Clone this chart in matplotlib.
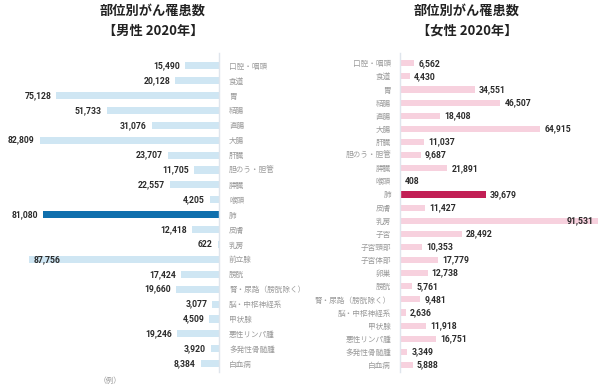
import matplotlib
matplotlib.use("Agg")
import matplotlib.pyplot as plt

plt.rcParams['font.family'] = ['Noto Sans CJK JP', 'DejaVu Sans']

# 男性
male_sites = ["口腔・咽頭", "食道", "胃", "結腸", "直腸", "大腸", "肝臓",
              "胆のう・胆管", "膵臓", "喉頭", "肺", "皮膚", "乳房", "前立腺",
              "膀胱", "腎・尿路（膀胱除く）", "脳・中枢神経系", "甲状腺",
              "悪性リンパ腫", "多発性骨髄腫", "白血病"]
male_vals = [15490, 20128, 75128, 51733, 31076, 82809, 23707,
             11705, 22557, 4205, 81080, 12418, 622, 87756,
             17424, 19660, 3077, 4509, 19246, 3920, 8384]

# 女性
female_sites = ["口腔・咽頭", "食道", "胃", "結腸", "直腸", "大腸", "肝臓",
                "胆のう・胆管", "膵臓", "喉頭", "肺", "皮膚", "乳房", "子宮",
                "子宮頸部", "子宮体部", "卵巣", "膀胱", "腎・尿路（膀胱除く）",
                "脳・中枢神経系", "甲状腺", "悪性リンパ腫", "多発性骨髄腫", "白血病"]
female_vals = [6562, 4430, 34551, 46507, 18408, 64915, 11037,
               9687, 21891, 408, 39679, 11427, 91531, 28492,
               10353, 17779, 12738, 5761, 9481,
               2636, 11918, 16751, 3349, 5888]

highlight = "肺"

W, H = 600, 386
fig = plt.figure(figsize=(6, 3.86), dpi=100)

line_col = "#dfe5ec"
lab_col = "#9a9a9a"
val_col = "#2b2b2b"
num_font = dict(family=['Roboto', 'DejaVu Sans'], fontweight='bold', fontsize=6.2, color=val_col)

top_px, bot_px = 53, 372
ax_b = (H - bot_px) / H
ax_h = (bot_px - top_px) / H

# ---- male ----
axm = fig.add_axes([0, ax_b, 219 / W, ax_h])
ym = list(range(len(male_sites)))
cm = ["#0f6fad" if s == highlight else "#cfe6f3" for s in male_sites]
axm.barh(ym, male_vals, height=0.48, color=cm)
axm.set_xlim(219 / 2.165 * 1000, 0)
axm.set_ylim(20 + 8.3 / 14.9, -12.7 / 14.9)
axm.yaxis.tick_right()
axm.set_yticks(ym)
axm.set_yticklabels(male_sites, fontsize=5.5, color=lab_col)
axm.tick_params(axis='y', length=0, pad=7.2)
axm.set_xticks([])
for sp in ["top", "bottom", "left"]:
    axm.spines[sp].set_visible(False)
axm.spines["right"].set_color(line_col)
axm.spines["right"].set_linewidth(1)
mmax = max(male_vals)
for y, v in zip(ym, male_vals):
    if v == mmax:
        axm.annotate(f"{v:,}", (v, y), xytext=(3, 0), textcoords="offset points",
                     ha="left", va="center", **num_font)
    else:
        axm.annotate(f"{v:,}", (v, y), xytext=(-3.6, 0), textcoords="offset points",
                     ha="right", va="center", **num_font)

# ---- female ----
axf = fig.add_axes([400 / W, ax_b, 200 / W, ax_h])
yf = list(range(len(female_sites)))
cf = ["#c21f55" if s == highlight else "#f7d1de" for s in female_sites]
axf.barh(yf, female_vals, height=0.47, color=cf)
axf.set_xlim(0, 200 / 2.16 * 1000)
axf.set_ylim(23 + 7 / 13.12, -10.3 / 13.12)
axf.set_yticks(yf)
axf.set_yticklabels(female_sites, fontsize=5.5, color=lab_col)
axf.tick_params(axis='y', length=0, pad=6.5)
axf.set_xticks([])
for sp in ["top", "bottom", "right"]:
    axf.spines[sp].set_visible(False)
axf.spines["left"].set_color(line_col)
axf.spines["left"].set_linewidth(1)
fmax = max(female_vals)
for y, v in zip(yf, female_vals):
    if v == fmax:
        axf.annotate(f"{v:,}", (v, y), xytext=(-3, 0), textcoords="offset points",
                     ha="right", va="center", **num_font)
    else:
        axf.annotate(f"{v:,}", (v, y), xytext=(3, 0), textcoords="offset points",
                     ha="left", va="center", **num_font)

# titles
fig.text(153 / W, 1 - 10.5 / H, "部位別がん罹患数", ha="center", va="center",
         fontsize=9.5, fontweight="bold", color="#222222")
fig.text(153 / W, 1 - 30.5 / H, "【男性 2020年】", ha="center", va="center",
         fontsize=9.5, fontweight="bold", color="#222222")
fig.text(467 / W, 1 - 10.5 / H, "部位別がん罹患数", ha="center", va="center",
         fontsize=9.5, fontweight="bold", color="#222222")
fig.text(467 / W, 1 - 30.5 / H, "【女性 2020年】", ha="center", va="center",
         fontsize=9.5, fontweight="bold", color="#222222")
fig.text(110 / W, 1 - 381 / H, "（例）", ha="center", va="center",
         fontsize=5.5, color=lab_col)

fig.savefig("out.png", dpi=100)
